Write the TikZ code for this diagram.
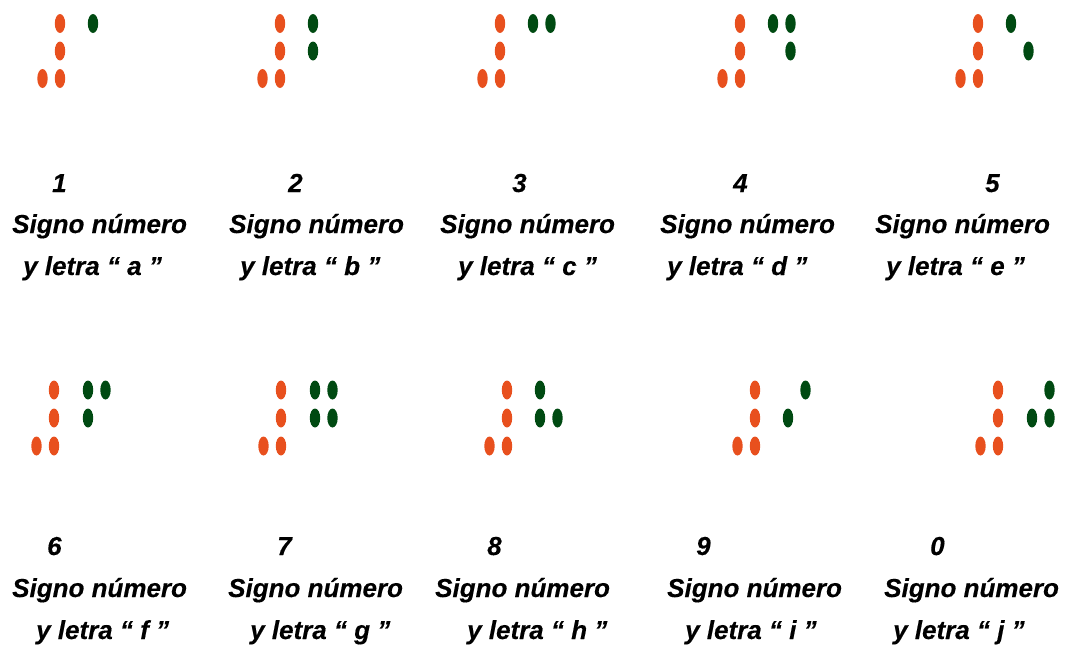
\documentclass[tikz,border=0pt]{standalone}
\usepackage{fontspec}
\setmainfont{Liberation Sans}[BoldItalicFeatures={FakeBold=0.3}]

\definecolor{signorange}{HTML}{E8501E}
\definecolor{lettergreen}{HTML}{004A12}

\newcommand\captionfont{\fontsize{26}{30}\selectfont\bfseries\itshape}

\tikzset{
  signdot/.style={fill=signorange},
  letterdot/.style={fill=lettergreen},
  caption/.style={anchor=base west, inner sep=0pt, font=\captionfont},
}

% #1 x of the sign column, #2 y of the top row, #3 row step,
% #4 distance from the sign column to the first letter column,
% #5 letter dots as column/row pairs (0-based)
\newcommand\brailleword[5]{%
  \foreach \r in {0,1,2}
    \fill[signdot] (#1,#2+\r*#3) ellipse[x radius=5.2pt, y radius=9.5pt];
  \fill[signdot] (#1-17.5,#2+2*#3) ellipse[x radius=5.2pt, y radius=9.5pt];
  \foreach \c/\r in {#5}
    \fill[letterdot] (#1+#4+\c*17.5,#2+\r*#3) ellipse[x radius=5.2pt, y radius=9.5pt];
}

\begin{document}
\begin{tikzpicture}[x=1pt, y=-1pt]
  \useasboundingbox (0,0) rectangle (1066,648);

  % first row: 1 to 5 (letters a to e)
  \brailleword{60}{23.5}{27.5}{33}{0/0}
  \brailleword{280}{23.5}{27.5}{33}{0/0,0/1}
  \brailleword{500}{23.5}{27.5}{33}{0/0,1/0}
  \brailleword{740}{23.5}{27.5}{33}{0/0,1/0,1/1}
  \brailleword{978}{23.5}{27.5}{33}{0/0,1/1}

  % second row: 6 to 0 (letters f to j)
  \brailleword{54}{390}{28}{34}{0/0,0/1,1/0}
  \brailleword{281}{390}{28}{34}{0/0,0/1,1/0,1/1}
  \brailleword{507}{390}{28}{33}{0/0,0/1,1/1}
  \brailleword{755}{390}{28}{33}{0/1,1/0}
  \brailleword{998}{390}{28}{34}{0/1,1/0,1/1}

  % captions, first row
  \node[caption] (num1) at (52,192) {1};
  \node[caption] (sig1) at (12,233) {Signo número};
  \node[caption] (let1) at (23,275) {y letra “ a ”};

  \node[caption] (num2) at (288,192) {2};
  \node[caption] (sig2) at (229,233) {Signo número};
  \node[caption] (let2) at (240,275) {y letra “ b ”};

  \node[caption] (num3) at (512,192) {3};
  \node[caption] (sig3) at (440,233) {Signo número};
  \node[caption] (let3) at (458,275) {y letra “ c ”};

  \node[caption] (num4) at (733,192) {4};
  \node[caption] (sig4) at (660,233) {Signo número};
  \node[caption] (let4) at (667,275) {y letra “ d ”};

  \node[caption] (num5) at (985,192) {5};
  \node[caption] (sig5) at (875,233) {Signo número};
  \node[caption] (let5) at (886,275) {y letra “ e ”};

  % captions, second row
  \node[caption] (num6) at (47,555) {6};
  \node[caption] (sig6) at (12,597) {Signo número};
  \node[caption] (let6) at (36,639) {y letra “ f ”};

  \node[caption] (num7) at (277,555) {7};
  \node[caption] (sig7) at (228,597) {Signo número};
  \node[caption] (let7) at (250,639) {y letra “ g ”};

  \node[caption] (num8) at (487,555) {8};
  \node[caption] (sig8) at (435,597) {Signo número};
  \node[caption] (let8) at (467,639) {y letra “ h ”};

  \node[caption] (num9) at (696,555) {9};
  \node[caption] (sig9) at (667,597) {Signo número};
  \node[caption] (let9) at (685,639) {y letra “ i ”};

  \node[caption] (num0) at (930,555) {0};
  \node[caption] (sig0) at (884,597) {Signo número};
  \node[caption] (let0) at (893,639) {y letra “ j ”};
\end{tikzpicture}
\end{document}
